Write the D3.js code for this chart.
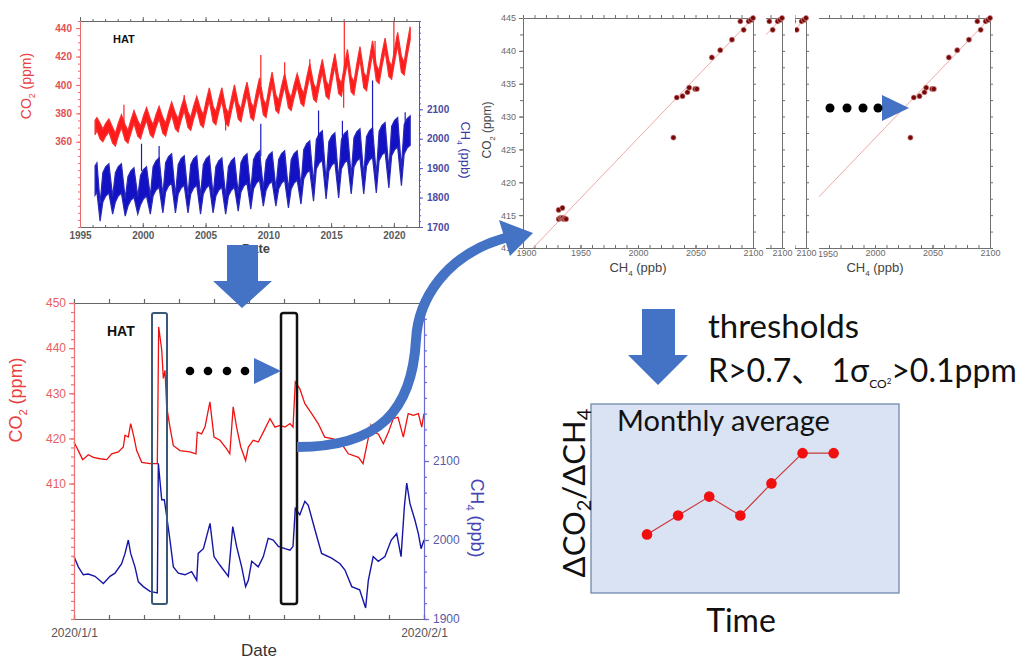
<!DOCTYPE html>
<html>
<head>
<meta charset="utf-8">
<script src="https://cdn.jsdelivr.net/npm/d3@7"></script>
<style>
  body { margin: 0; background: #fff; }
  svg { display: block; }
</style>
</head>
<body>
<svg id="fig" width="1027" height="659"></svg>
<script>
// ---------- long record at HAT (1996-2021), read as seasonal envelopes ----------
const longTime = [
  1996.2, 1996.35, 1996.6, 1996.82, 1997.05, 1997.3, 1997.6, 1997.82,
  1998.05, 1998.3, 1998.6, 1998.82, 1999.05, 1999.3, 1999.6, 1999.82,
  2000.05, 2000.3, 2000.6, 2000.82, 2001.05, 2001.3, 2001.6, 2001.82,
  2002.05, 2002.3, 2002.6, 2002.82, 2003.05, 2003.3, 2003.6, 2003.82,
  2004.05, 2004.3, 2004.6, 2004.82, 2005.05, 2005.3, 2005.6, 2005.82,
  2006.05, 2006.3, 2006.6, 2006.82, 2007.05, 2007.3, 2007.6, 2007.82,
  2008.05, 2008.3, 2008.6, 2008.82, 2009.05, 2009.3, 2009.6, 2009.82,
  2010.05, 2010.3, 2010.6, 2010.82, 2011.05, 2011.3, 2011.6, 2011.82,
  2012.05, 2012.3, 2012.6, 2012.82, 2013.05, 2013.3, 2013.6, 2013.82,
  2014.05, 2014.3, 2014.6, 2014.82, 2015.05, 2015.3, 2015.6, 2015.82,
  2016.05, 2016.3, 2016.6, 2016.82, 2017.05, 2017.3, 2017.6, 2017.82,
  2018.05, 2018.3, 2018.6, 2018.82, 2019.05, 2019.3, 2019.6, 2019.82,
  2020.05, 2020.3, 2020.6, 2020.82, 2021.05, 2021.3
];
const co2Low = [
  365, 368, 362, 360, 364, 367, 359, 357, 364, 370, 361, 359, 366, 373, 364, 362,
  369, 375, 365, 363, 370, 376, 366, 364, 372, 379, 369, 367, 375, 382, 370, 368,
  376, 383, 372, 370, 380, 389, 374, 372, 381, 389, 373, 371, 381, 391, 376, 374,
  384, 393, 377, 375, 386, 396, 379, 377, 389, 400, 382, 380, 390, 399, 384, 382,
  391, 399, 387, 385, 396, 406, 390, 388, 399, 409, 392, 390, 402, 413, 394, 392,
  404, 416, 395, 393, 406, 418, 398, 396, 409, 422, 403, 401, 413, 424, 406, 404,
  416, 428, 409, 407, 420, 432
];
const co2High = [
  375, 377, 373, 369, 373, 376, 370, 366, 373, 379, 372, 368, 375, 382, 375, 371,
  378, 384, 376, 372, 379, 385, 377, 373, 381, 388, 380, 376, 384, 391, 381, 377,
  385, 392, 383, 379, 389, 398, 385, 381, 390, 398, 384, 380, 390, 400, 387, 383,
  393, 402, 388, 384, 395, 405, 390, 386, 398, 409, 393, 389, 399, 408, 395, 391,
  400, 408, 398, 394, 405, 415, 401, 397, 408, 418, 403, 399, 411, 422, 405, 401,
  413, 425, 406, 402, 415, 427, 409, 405, 418, 431, 414, 410, 422, 433, 417, 413,
  425, 437, 420, 416, 429, 441
];
const ch4Low = [
  1808, 1818, 1720, 1785, 1805, 1815, 1744, 1785, 1805, 1815, 1737, 1771, 1791, 1801, 1744, 1775,
  1795, 1805, 1744, 1805, 1825, 1835, 1748, 1819, 1839, 1849, 1748, 1812, 1832, 1842, 1748, 1812,
  1832, 1842, 1744, 1812, 1832, 1842, 1748, 1805, 1825, 1835, 1744, 1805, 1825, 1835, 1754, 1819,
  1839, 1849, 1761, 1829, 1849, 1859, 1771, 1825, 1845, 1855, 1771, 1829, 1849, 1859, 1765, 1829,
  1849, 1859, 1778, 1863, 1883, 1893, 1788, 1897, 1917, 1927, 1795, 1890, 1910, 1920, 1799, 1897,
  1917, 1927, 1812, 1904, 1924, 1934, 1812, 1907, 1927, 1937, 1816, 1925, 1945, 1955, 1833, 1942,
  1962, 1972, 1840, 1948, 1968, 1978
];
const ch4High = [
  1908, 1918, 1780, 1885, 1905, 1915, 1804, 1885, 1905, 1915, 1797, 1871, 1891, 1901, 1804, 1875,
  1895, 1905, 1804, 1905, 1925, 1935, 1808, 1919, 1939, 1949, 1808, 1912, 1932, 1942, 1808, 1912,
  1932, 1942, 1804, 1912, 1932, 1942, 1808, 1905, 1925, 1935, 1804, 1905, 1925, 1935, 1814, 1919,
  1939, 1949, 1821, 1929, 1949, 1959, 1831, 1925, 1945, 1955, 1831, 1929, 1949, 1959, 1825, 1929,
  1949, 1959, 1838, 1963, 1983, 1993, 1848, 1997, 2017, 2027, 1855, 1990, 2010, 2020, 1859, 1997,
  2017, 2027, 1872, 2004, 2024, 2034, 1872, 2007, 2027, 2037, 1876, 2025, 2045, 2055, 1893, 2042,
  2062, 2072, 1900, 2048, 2068, 2078
];
// single spikes: [year, from, to]
const co2Spikes = [
  [1998.5, 374, 386], [2003.3, 388, 393], [2006.6, 380, 368], [2009.4, 400, 421],
  [2011.3, 404, 416], [2013.3, 412, 418], [2016.0, 404, 384], [2016.05, 412, 446],
  [2018.5, 414, 431], [2020.0, 422, 446]
];
const ch4Spikes = [
  [1999.9, 1890, 1983], [2001.3, 1920, 1975], [2009.4, 1940, 2051], [2014.0, 2000, 2096],
  [2015.9, 2000, 2061], [2018.3, 2020, 2198], [2020.9, 2040, 2090]
];

// ---------- January 2020 at HAT (hourly record, read at turning points) ----------
const janCO2Day = [
  0, 0.38, 0.77, 1.27, 1.71, 2.3, 2.9, 3.34, 3.93, 4.37, 4.52, 4.81, 5.02, 5.31, 5.55, 6.0,
  6.73, 7.38, 7.5, 7.77, 7.91, 8.06, 8.21, 8.5, 8.8, 9.39, 10.27, 10.8, 10.92, 11.3, 11.6, 12.04,
  12.4, 12.93, 13.52, 13.8, 14.1, 14.4, 14.77, 15.2, 15.44, 15.88, 16.32, 16.77, 17.36, 17.8, 18.25, 18.69,
  19.13, 19.4, 19.6, 20.0, 20.45, 21.05, 21.63, 22.2, 22.97, 23.7, 24.3, 25.2, 25.6, 25.9,
  26.3, 26.5, 26.95, 27.4, 27.85, 28.28, 28.7, 29.17, 29.6, 30.05, 30.5, 30.8, 31
];
const janCO2 = [
  419.2, 417.3, 415.3, 416.4, 415.8, 415.5, 415.3, 416.6, 417.0, 418.1, 420.7, 420.3, 423.3, 420.3, 417.3, 414.7,
  414.4, 414.4, 444.7, 439.6, 433.3, 435.1, 427.0, 422.5, 418.4, 417.3, 417.0, 416.6, 421.4, 421.0, 422.5, 428.1,
  420.3, 419.6, 417.7, 416.6, 427.0, 422.5, 418.1, 415.1, 418.1, 419.6, 419.2, 421.4, 424.4, 422.5, 422.9, 422.5,
  423.3, 422.5, 432.5, 431.0, 427.7, 425.5, 423.3, 420.3, 419.9, 418.8, 416.6, 415.8, 414.4, 418.1,
  422.9, 421.4, 421.0, 418.8, 421.4, 424.4, 424.7, 420.3, 425.5, 425.1, 425.5, 422.5, 425.5
];
const janCH4Day = [
  0, 0.38, 0.82, 1.27, 1.86, 2.6, 3.19, 3.63, 4.22, 4.52, 4.81, 5.02, 5.4, 5.7, 6.14, 6.73,
  7.38, 7.47, 7.77, 8.0, 8.21, 8.5, 8.8, 9.24, 9.83, 10.42, 10.87, 11.0, 11.46, 12.05, 12.4, 12.93,
  13.67, 14.06, 14.4, 14.85, 15.2, 15.44, 15.74, 16.32, 16.77, 17.2, 17.65, 18.1, 18.69, 19.13, 19.4, 19.6,
  20.0, 20.45, 20.75, 21.34, 21.93, 22.82, 23.56, 24.0, 24.6, 25.3, 25.83, 26.07, 26.5, 26.95,
  27.54, 28.1, 28.58, 28.97, 29.26, 29.47, 29.76, 30.2, 30.5, 30.74, 31
];
const janCH4 = [
  1979, 1966, 1956, 1957, 1954, 1945, 1954, 1958, 1970, 1983, 2000, 1983, 1966, 1947, 1941, 1935,
  1933, 2097, 2051, 2051, 2030, 2000, 1966, 1958, 1956, 1960, 1949, 1983, 1989, 2021, 1979, 1968,
  1954, 2017, 1992, 1966, 1941, 1949, 1973, 1966, 1979, 2002, 2000, 1992, 1989, 1987, 1992, 2040,
  2032, 2049, 2044, 2013, 1983, 1977, 1970, 1962, 1941, 1937, 1914, 1949, 1979, 1973,
  1979, 2000, 2008, 1979, 2042, 2072, 2046, 2025, 2008, 1989, 2000
];

// ---------- one event: CO2 vs CH4 ----------
const eventCH4 = [1931, 1934.3, 1931, 1932.5, 1933.5, 1934.5, 1935.5, 1936.5, 1937.5,
  2030.8, 2033.7, 2038.7, 2043, 2044.5, 2049.7, 2051.2, 2064.2, 2071.5, 2081.7, 2089, 2091.9, 2096.2, 2098.3, 2100];
const eventCO2 = [415.8, 416.1, 414.4, 414.6, 414.5, 414.6, 414.4, 414.5, 414.4,
  426.8, 432.9, 433.1, 433.7, 434.4, 434.2, 434.2, 439.0, 440.1, 441.7, 444.5, 443.2, 444.5, 444.7, 445];
const fitCH4 = [1908.7, 2100];
const fitCO2 = [410, 445];

// ---------- monthly average of the ratio ----------
const monthIndex = [0, 1, 2, 3, 4, 5, 6];
const monthRatio = [3.1, 4.1, 5.1, 4.1, 5.8, 7.4, 7.4];

const svg = d3.select('#fig');
const FONT = "'Liberation Sans', Arial, sans-serif";
const BLUE = '#4472c4';

function drawAxis(parent, axisFn, scale, opt) {
	const minor = parent.append('g')
		.attr('transform', opt.at)
		.call(axisFn(scale).tickValues(opt.minor || []).tickSize(opt.minorSize || 0).tickSizeOuter(0).tickFormat(''));
	minor.selectAll('path, line').attr('stroke', opt.color).attr('stroke-width', opt.width || 1);

	if (opt.major) {
		const major = parent.append('g')
			.attr('transform', opt.at)
			.call(axisFn(scale).tickValues(opt.major).tickSize(opt.majorSize).tickSizeOuter(0)
				.tickPadding(opt.pad === undefined ? 3 : opt.pad)
				.tickFormat(opt.format || ''));
		major.select('.domain').remove();
		major.selectAll('line').attr('stroke', opt.color).attr('stroke-width', opt.width || 1);
		major.selectAll('text')
			.attr('fill', opt.textColor)
			.attr('font-size', opt.fontSize)
			.attr('font-family', FONT)
			.attr('font-weight', opt.bold ? 'bold' : 'normal');
		// only the ticks listed in keepLabels get a text (the rest sit behind another card)
		if (opt.keepLabels) {
			major.selectAll('.tick').filter(d => opt.keepLabels.indexOf(d) < 0).select('text').remove();
		}
		return major;
	}
	return minor;
}

// label with a subscript, e.g. CO + 2 + " (ppm)"
function subLabel(g, x, y, rotate, parts, size, color, anchor) {
	const t = g.append('text')
		.attr('transform', `translate(${x},${y}) rotate(${rotate})`)
		.attr('text-anchor', anchor || 'middle')
		.attr('font-family', FONT)
		.attr('font-size', size)
		.attr('fill', color);
	t.append('tspan').text(parts[0]);
	t.append('tspan').attr('font-size', size * 0.62).attr('dy', size * 0.3).text(parts[1]);
	t.append('tspan').attr('dy', -size * 0.3).text(parts[2]);
	return t;
}

// ================= top-left: 1996-2021 =================
const topX = d3.scaleLinear().domain([1995, 2022]).range([80, 419]);
const topCO2 = d3.scaleLinear().domain([300, 445]).range([227, 21]);
const topCH4 = d3.scaleLinear().domain([1700, 2400]).range([227, 21]);

svg.append('clipPath').attr('id', 'clipTop')
	.append('rect').attr('x', 80).attr('y', 21).attr('width', 339).attr('height', 206);

const topG = svg.append('g');
const topData = topG.append('g').attr('clip-path', 'url(#clipTop)');

topData.append('path')
	.datum(longTime)
	.attr('d', d3.area()
		.x(d => topX(d))
		.y0((d, i) => topCH4(ch4Low[i]))
		.y1((d, i) => topCH4(ch4High[i])))
	.attr('fill', '#1212c4')
	.attr('stroke', '#2a2ab8')
	.attr('stroke-width', 1.2);

topData.append('path')
	.datum(longTime)
	.attr('d', d3.area()
		.x(d => topX(d))
		.y0((d, i) => topCO2(co2Low[i]))
		.y1((d, i) => topCO2(co2High[i])))
	.attr('fill', '#ff1a1a')
	.attr('stroke', '#f83030')
	.attr('stroke-width', 1.2);

topData.selectAll('.co2spike')
	.data(co2Spikes)
	.enter().append('line')
	.attr('x1', d => topX(d[0])).attr('x2', d => topX(d[0]))
	.attr('y1', d => topCO2(d[1])).attr('y2', d => topCO2(d[2]))
	.attr('stroke', '#ff2020').attr('stroke-width', 1.2);

topData.selectAll('.ch4spike')
	.data(ch4Spikes)
	.enter().append('line')
	.attr('x1', d => topX(d[0])).attr('x2', d => topX(d[0]))
	.attr('y1', d => topCH4(d[1])).attr('y2', d => topCH4(d[2]))
	.attr('stroke', '#1a1ac0').attr('stroke-width', 1.2);

drawAxis(topG, d3.axisTop, topX, {at: 'translate(0,21)', minor: d3.range(1995, 2022, 1), minorSize: 2,
	major: [1995, 2000, 2005, 2010, 2015, 2020], majorSize: 4, color: '#666'});
drawAxis(topG, d3.axisBottom, topX, {at: 'translate(0,227)', minor: d3.range(1995, 2022, 1), minorSize: -2,
	major: [1995, 2000, 2005, 2010, 2015, 2020], majorSize: -4, pad: 5, color: '#666',
	format: d3.format('d'), textColor: '#5a5a5a', fontSize: 10, bold: true});
drawAxis(topG, d3.axisLeft, topCO2, {at: 'translate(80,0)', minor: d3.range(300, 446, 5), minorSize: 2,
	major: [360, 380, 400, 420, 440], majorSize: 4, pad: 4, color: '#e86a6a',
	format: d3.format('d'), textColor: '#e35050', fontSize: 10, bold: true});
drawAxis(topG, d3.axisRight, topCH4, {at: 'translate(419,0)', minor: d3.range(1700, 2401, 20), minorSize: 2,
	major: [1700, 1800, 1900, 2000, 2100], majorSize: 4, pad: 4, color: '#5555c8',
	format: d3.format('d'), textColor: '#4a4aa0', fontSize: 10, bold: true});

topG.append('text').attr('x', 113).attr('y', 43)
	.attr('font-family', FONT).attr('font-weight', 'bold').attr('font-size', 11).attr('fill', '#111').text('HAT');
topG.append('text').attr('x', 256).attr('y', 253).attr('text-anchor', 'middle')
	.attr('font-family', FONT).attr('font-weight', 'bold').attr('font-size', 13).attr('fill', '#444').text('Date');
subLabel(topG, 31, 86, -90, ['CO', '2', ' (ppm)'], 14, '#e84040');
subLabel(topG, 461, 150, 90, ['CH', '4', ' (ppb)'], 13, '#3a3aa8');

// ================= bottom-left: January 2020 =================
const janX = d3.scaleLinear().domain([0, 31]).range([74, 424]);
const janCO2Y = d3.scaleLinear().domain([380, 450]).range([619, 303]);
const janCH4Y = d3.scaleLinear().domain([1900, 2300]).range([619, 303]);

const janG = svg.append('g');

janG.append('path')
	.datum(janCO2Day)
	.attr('d', d3.line().x(d => janX(d)).y((d, i) => janCO2Y(janCO2[i])))
	.attr('fill', 'none').attr('stroke', '#ee1111').attr('stroke-width', 1.3);

janG.append('path')
	.datum(janCH4Day)
	.attr('d', d3.line().x(d => janX(d)).y((d, i) => janCH4Y(janCH4[i])))
	.attr('fill', 'none').attr('stroke', '#1616a6').attr('stroke-width', 1.4);

const dayTicks = d3.range(0, 31.01, 3.1);
drawAxis(janG, d3.axisTop, janX, {at: 'translate(0,303)', minor: dayTicks, minorSize: 4, color: '#666', width: 1.2});
drawAxis(janG, d3.axisBottom, janX, {at: 'translate(0,619)', minor: dayTicks, minorSize: -4, color: '#666', width: 1.2,
	major: [0, 31], majorSize: -4, pad: 9, format: d => (d === 0 ? '2020/1/1' : '2020/2/1'),
	textColor: '#555', fontSize: 12});
drawAxis(janG, d3.axisLeft, janCO2Y, {at: 'translate(74,0)', minor: d3.range(380, 451, 2), minorSize: 3,
	major: [410, 420, 430, 440, 450], majorSize: 5, pad: 3, color: '#ef7070', width: 1.2,
	format: d3.format('d'), textColor: '#e66060', fontSize: 12});
drawAxis(janG, d3.axisRight, janCH4Y, {at: 'translate(424,0)', minor: d3.range(1900, 2301, 20), minorSize: 3,
	major: [1900, 2000, 2100], majorSize: 5, pad: 4, color: '#6a6ad0', width: 1.2,
	format: d3.format('d'), textColor: '#5858a8', fontSize: 12});

janG.append('text').attr('x', 107).attr('y', 336)
	.attr('font-family', FONT).attr('font-weight', 'bold').attr('font-size', 14).attr('fill', '#111').text('HAT');
janG.append('text').attr('x', 259).attr('y', 656).attr('text-anchor', 'middle')
	.attr('font-family', FONT).attr('font-size', 17).attr('fill', '#333').text('Date');
subLabel(janG, 22, 400, -90, ['CO', '2', ' (ppm)'], 18, '#e84040');
subLabel(janG, 471, 518, 90, ['CH', '4', ' (ppb)'], 18, '#4646b4');

// selected windows
janG.append('rect').attr('x', 152).attr('y', 313).attr('width', 15).attr('height', 291).attr('rx', 2)
	.attr('fill', 'none').attr('stroke', '#3a5878').attr('stroke-width', 2);
janG.append('rect').attr('x', 281).attr('y', 313).attr('width', 16).attr('height', 291).attr('rx', 2.5)
	.attr('fill', 'none').attr('stroke', '#111').attr('stroke-width', 2.5);

// ================= top-right: scatter panels (stacked cards) =================
function drawScatterPanel(panel) {
	const shift = panel.shift;
	const x = d3.scaleLinear().domain([1900, 2100]).range([523 + shift, 753 + shift]);
	const y = d3.scaleLinear().domain([410, 445]).range([248, 18]);
	const g = svg.append('g');

	g.append('rect')
		.attr('x', 523 + shift - 45).attr('y', 0)
		.attr('width', 230 + 58).attr('height', 282)
		.attr('fill', '#fff');

	const ax = {color: '#707070', textColor: '#6a6a6a', fontSize: 9};
	drawAxis(g, d3.axisTop, x, Object.assign({at: 'translate(0,18)', minor: d3.range(1900, 2101, 10), minorSize: 3}, ax));
	const bottom = drawAxis(g, d3.axisBottom, x, Object.assign({at: 'translate(0,248)', minor: d3.range(1900, 2101, 10), minorSize: -3,
		major: [1900, 1950, 2000, 2050, 2100], majorSize: -3, pad: 2, format: d3.format('d'),
		keepLabels: panel.xLabels}, ax));
	bottom.selectAll('.tick').filter(d => d === 1900).select('text').attr('dx', 3);
	drawAxis(g, d3.axisLeft, y, Object.assign({at: `translate(${523 + shift},0)`, minor: d3.range(410, 445.1, 2.5), minorSize: 3,
		major: [410, 415, 420, 425, 430, 435, 440, 445], majorSize: 4, pad: 3, format: d3.format('d'),
		keepLabels: panel.yLabels}, ax));
	drawAxis(g, d3.axisRight, y, Object.assign({at: `translate(${753 + shift},0)`, minor: d3.range(410, 445.1, 2.5), minorSize: 3}, ax));

	g.append('line')
		.attr('x1', x(fitCH4[0])).attr('y1', y(fitCO2[0]))
		.attr('x2', x(fitCH4[1])).attr('y2', y(fitCO2[1]))
		.attr('stroke', '#f0a8a8').attr('stroke-width', 1);

	g.selectAll('circle')
		.data(eventCH4)
		.enter().append('circle')
		.attr('cx', d => x(d))
		.attr('cy', (d, i) => y(eventCO2[i]))
		.attr('r', 2.6)
		.attr('fill', '#760808')
		.attr('stroke', '#e0a0a0')
		.attr('stroke-width', 0.6);

	if (panel.xTitle) subLabel(g, 638 + shift, 272, 0, ['CH', '4', ' (ppb)'], 13, '#444');
	if (panel.yTitle) subLabel(g, 491, 130, -90, ['CO', '2', ' (ppm)'], 12, '#444');
}

[
	{shift: 237, xLabels: [2000, 2050, 2100], yLabels: [], xTitle: true},
	{shift: 53, xLabels: [2100], yLabels: []},
	{shift: 29, xLabels: [2100], yLabels: []},
	{shift: 0, xLabels: [1900, 1950, 2000, 2050, 2100], yLabels: [410, 415, 420, 425, 430, 435, 440, 445], xTitle: true, yTitle: true}
].forEach(drawScatterPanel);

// the right card's "1950" label shows only its last digits past the card in front
svg.append('clipPath').attr('id', 'clipPeek')
	.append('rect').attr('x', 819).attr('y', 248).attr('width', 30).attr('height', 20);
svg.append('text')
	.attr('clip-path', 'url(#clipPeek)')
	.attr('x', 828).attr('y', 257).attr('text-anchor', 'middle')
	.attr('font-family', FONT).attr('font-size', 9).attr('fill', '#6a6a6a')
	.text('1950');

// ================= bottom-right: monthly ratio =================
const boxX = d3.scaleLinear().domain([-1.8, 8.1]).range([591, 899]);
const boxY = d3.scaleLinear().domain([0, 10]).range([593, 404]);
const boxG = svg.append('g');

boxG.append('rect').attr('x', 591).attr('y', 404).attr('width', 308).attr('height', 189)
	.attr('fill', '#dae3f3').attr('stroke', '#7088ac').attr('stroke-width', 1.3);

boxG.append('path')
	.datum(monthIndex)
	.attr('d', d3.line().x(d => boxX(d)).y((d, i) => boxY(monthRatio[i])))
	.attr('fill', 'none').attr('stroke', '#c83a3a').attr('stroke-width', 1.2);

boxG.selectAll('circle')
	.data(monthIndex)
	.enter().append('circle')
	.attr('cx', d => boxX(d))
	.attr('cy', (d, i) => boxY(monthRatio[i]))
	.attr('r', 5.3)
	.attr('fill', '#f01010');

const NOTE = "Lato, 'Noto Sans CJK JP', 'Noto Sans', sans-serif";
boxG.append('text').attr('x', 617).attr('y', 431)
	.attr('font-family', NOTE).attr('font-size', 29).attr('fill', '#111').text('Monthly average');
boxG.append('text').attr('x', 741).attr('y', 632).attr('text-anchor', 'middle')
	.attr('font-family', NOTE).attr('font-size', 32).attr('fill', '#111').text('Time');

const yl = boxG.append('text')
	.attr('transform', 'translate(585,493) rotate(-90)')
	.attr('text-anchor', 'middle')
	.attr('font-family', NOTE).attr('font-size', 31).attr('fill', '#111');
yl.append('tspan').text('ΔCO');
yl.append('tspan').attr('font-size', 20).attr('dy', 6).text('2');
yl.append('tspan').attr('dy', -6).text('/ΔCH');
yl.append('tspan').attr('font-size', 20).attr('dy', 6).text('4');

boxG.append('text').attr('x', 708).attr('y', 338)
	.attr('font-family', NOTE).attr('font-size', 33).attr('fill', '#111').text('thresholds');
const th = boxG.append('text').attr('x', 708).attr('y', 382)
	.attr('font-family', NOTE).attr('font-size', 32).attr('fill', '#111');
th.append('tspan').text('R>0.7、 1σ');
th.append('tspan').attr('font-size', 12).attr('dy', 6).text('CO');
th.append('tspan').attr('font-size', 8).attr('dy', -4).text('2');
th.append('tspan').attr('dy', -2).text('>0.1ppm');

// ================= arrows =================
const arrows = svg.append('g').attr('fill', BLUE);

arrows.append('polygon')
	.attr('points', '227,245 258,245 258,281 272,281 242,308 213,281 227,281');
arrows.append('polygon')
	.attr('points', '642,309 675,309 675,355 688,355 658,385 628,355 642,355');

arrows.append('path')
	.attr('d', 'M297,447 C380,447 412,410 416,340 C418,300 445,255 505,238')
	.attr('fill', 'none').attr('stroke', BLUE).attr('stroke-width', 10);
arrows.append('polygon').attr('points', '499,220 510,256 533,233');

// "...." pointers
[190, 208, 227, 245].forEach(cx => {
	svg.append('circle').attr('cx', cx).attr('cy', 371).attr('r', 4.3).attr('fill', '#000');
});
arrows.append('polygon').attr('points', '254,358 254,384 281,371');

[830, 847, 863, 878].forEach(cx => {
	svg.append('circle').attr('cx', cx).attr('cy', 108).attr('r', 4.5).attr('fill', '#000');
});
arrows.append('polygon').attr('points', '882,95 882,121 909,108');
</script>
</body>
</html>
